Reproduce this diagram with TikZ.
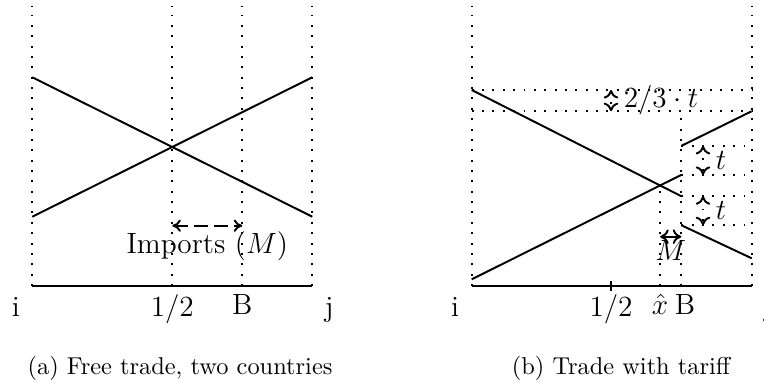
\documentclass[tikz,border=0pt]{standalone}
\usepackage{tikz}
\usetikzlibrary{arrows.meta,positioning}

\begin{document}
\begin{tikzpicture}[
  x=0.41pt, y=-0.41pt,
  font=\fontsize{12}{14}\selectfont,
  curve/.style={line width=0.8pt},
  guide/.style={line width=0.8pt,dash pattern=on 0.8pt off 3.45pt},
  gap/.style={guide,{To[length=3.5pt,width=6pt]}-{To[length=3.5pt,width=6pt]}},
  flow/.style={line width=0.8pt,dash pattern=on 5.5pt off 2.7pt,{To[length=3.5pt,width=5pt]}-{To[length=3.5pt,width=5pt]}},
  caption/.style={font=\fontsize{10}{12}\selectfont,anchor=base}
]
\useasboundingbox (0,0) rectangle (764,387);
\coordinate (top) at (0,6);

% (a) free trade
\coordinate (ai) at (32.3,286);
\coordinate (ah) at (172.3,286);
\coordinate (aB) at (242.3,286);
\coordinate (aj) at (312.3,286);
\foreach \p in {ai,ah,aB,aj}
  \draw[guide] (\p) -- (\p |- top);
\draw[curve] (ai) -- (aj);
\draw[curve] (32.3,77.3) -- (312.3,216.7);
\draw[curve] (32.3,216.7) -- (312.3,77.3);
\coordinate (m1) at (172.3,225.7);
\coordinate (m2) at (242.3,225.7);
\draw[flow] (m1) -- node[below,inner sep=2pt] (imp) {Imports ($M$)} (m2);
\node[below left=1pt and 1.6pt of ai] (li) {i};
\node[below] (lh) at (ah) {$1/2$};
\node[below] (lB) at (aB) {B};
\node[below right=1pt and 1.6pt of aj] (lj) {j};

% (b) tariff
\coordinate (bi) at (471.7,286);
\coordinate (bh) at (611,286);
\coordinate (bB) at (681.3,286);
\coordinate (bj) at (751.7,286);
\coordinate (d1) at (471.7,90);
\coordinate (d2) at (681.3,196.2);
\coordinate (d3) at (681.3,225.2);
\coordinate (d4) at (751.7,258.3);
\coordinate (u1) at (471.7,279.3);
\coordinate (u2) at (681.3,174.9);
\coordinate (u3) at (681.3,145.9);
\coordinate (u4) at (751.7,111.2);
\coordinate (cross) at (intersection of d1--d2 and u1--u2);
\coordinate (bx) at (cross |- bi);
\draw[guide] (bi) -- (bi |- top);
\draw[guide] (bj) -- (bj |- top);
\draw[guide] (d1) -- (d1 -| bj);
\draw[guide] (bi |- u4) -- (u4);
\draw[guide] (bB) -- (bB |- u4);
\draw[guide] (bx) -- (cross);
\foreach \p in {u3,u2,d2,d3}
  \draw[guide] (\p) -- (\p -| bj);
\draw[curve] (bi) -- (bj);
\draw[curve] (bh) ++(0,-5) -- ++(0,10);
\draw[curve] (d1) -- (d2);
\draw[curve] (d3) -- (d4);
\draw[curve] (u1) -- (u2);
\draw[curve] (u3) -- (u4);
\coordinate (g1) at (bh |- d1);
\coordinate (g2) at (bh |- u4);
\draw[gap] (g1) -- node[right=1.5pt] (frac) {$2/3\cdot t$} (g2);
\coordinate (t1) at (703,145.9);
\coordinate (t2) at (703,174.9);
\coordinate (t3) at (703,196.2);
\coordinate (t4) at (703,225.2);
\draw[gap] (t1) -- node[right=1.5pt] (ta) {$t$} (t2);
\draw[gap] (t3) -- node[right=1.5pt] (tb) {$t$} (t4);
\path (bx) ++(0,-49.3) coordinate (x1);
\coordinate (x2) at (x1 -| bB);
\draw[gap,solid] (x1) -- node[below,inner sep=1pt] (mm) {$M$} (x2);
\node[below left=1pt and 1.6pt of bi] (ri) {i};
\node[below] (rh) at (bh) {$1/2$};
\node[below,inner xsep=0.5pt] (rx) at (bx) {$\hat{x}$};
\node[below,inner xsep=0.5pt,xshift=1.5pt] (rB) at (bB) {B};
\node[below right=1pt and 1.6pt of bj] (rj) {j};

\node[caption] (capa) at (180,374) {(a) Free trade, two countries};
\node[caption] (capb) at (621,374) {(b) Trade with tariff};
\end{tikzpicture}
\end{document}
